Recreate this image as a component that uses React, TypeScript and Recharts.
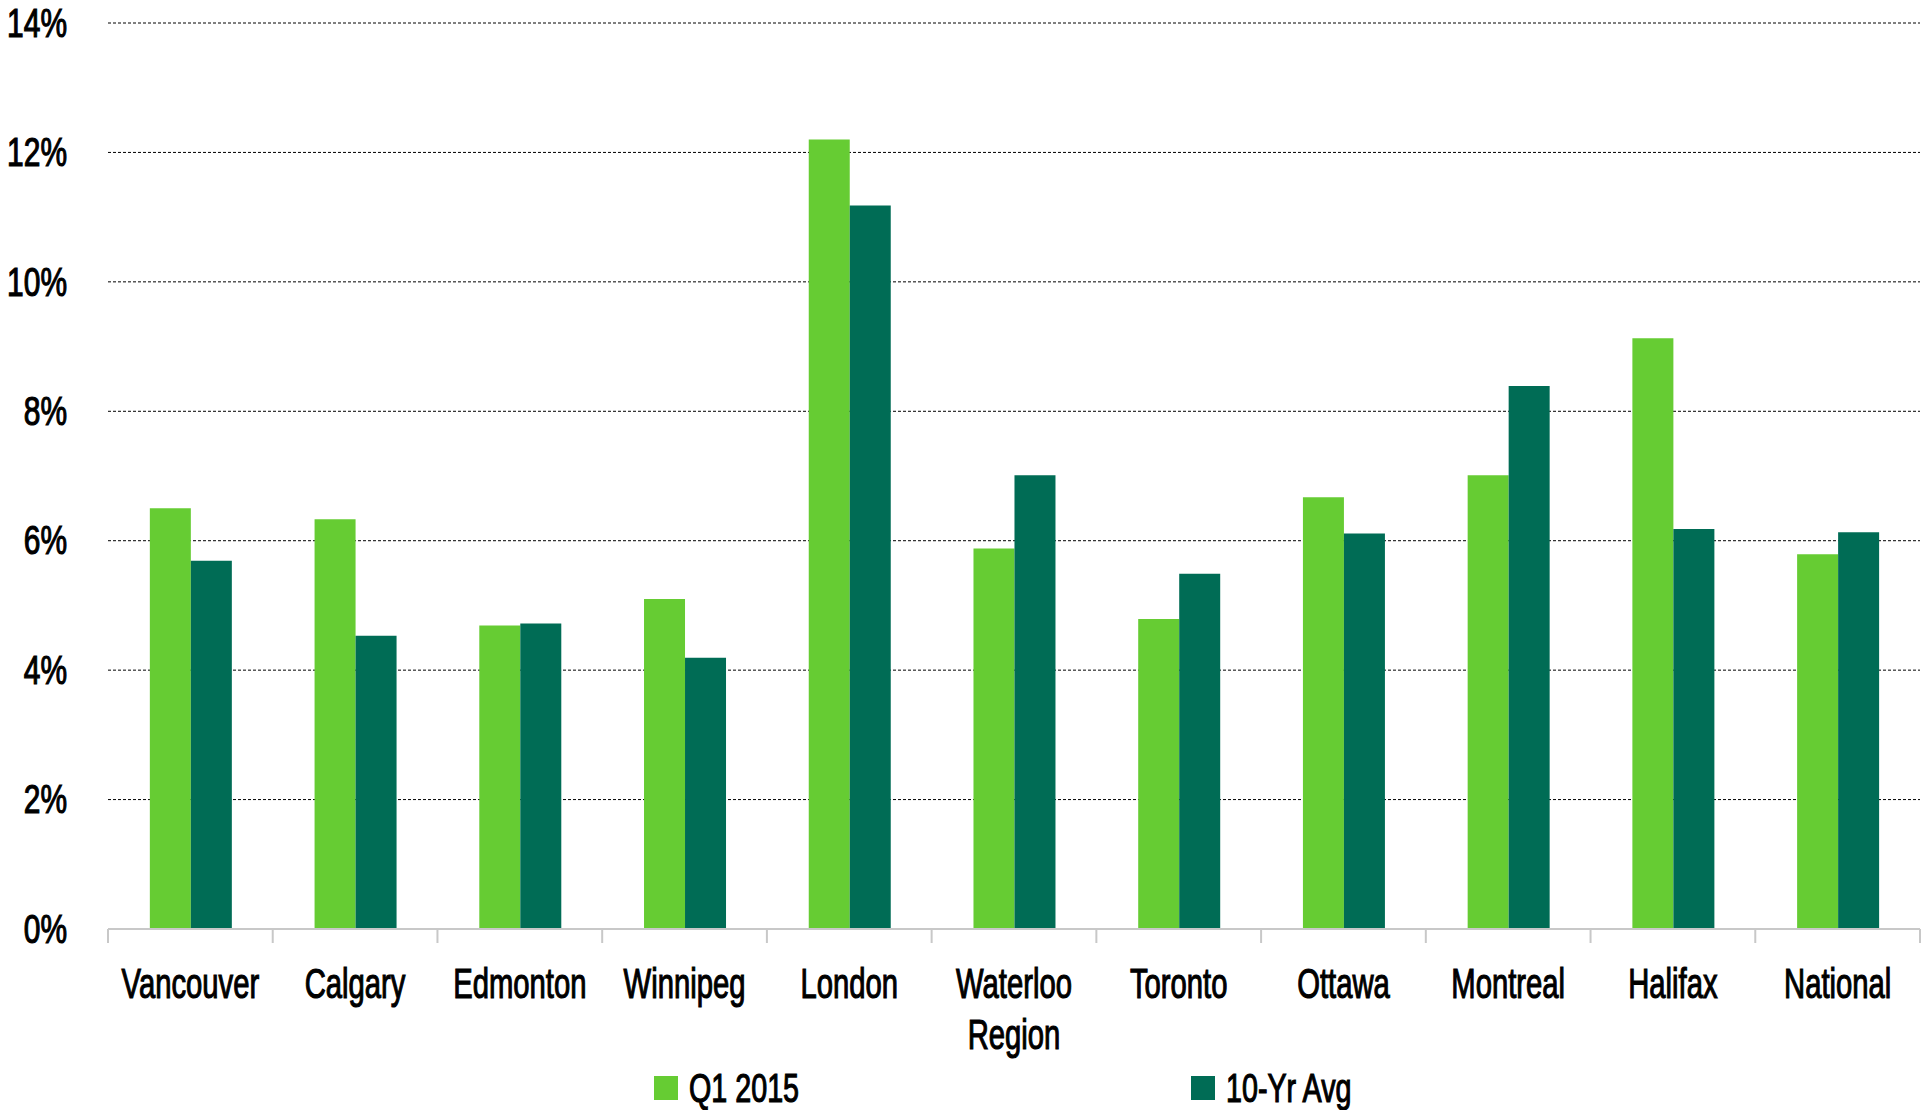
import React from 'react';
import { BarChart, Bar, XAxis, YAxis, CartesianGrid, Legend } from 'recharts';

// Vacancy rates by market, percent
const cities = [
  'Vancouver', 'Calgary', 'Edmonton', 'Winnipeg', 'London', 'Waterloo Region',
  'Toronto', 'Ottawa', 'Montreal', 'Halifax', 'National',
];
const q12015 = [6.5, 6.33, 4.69, 5.1, 12.2, 5.88, 4.79, 6.67, 7.01, 9.13, 5.79];
const tenYrAvg = [5.69, 4.53, 4.72, 4.19, 11.18, 7.01, 5.49, 6.11, 8.39, 6.18, 6.13];
const seriesNames = ['Q1 2015', '10-Yr Avg'];
const yTicks = [0, 2, 4, 6, 8, 10, 12, 14];

const data = cities.map((city, i) => ({ city, q1: q12015[i], avg: tenYrAvg[i] }));

const W = 1923;
const H = 1110;
const MARGIN = { top: 23, right: 3, left: 0, bottom: 0 };
const Y_AXIS_W = 108;
const X_AXIS_H = 181;
const BAND = (W - MARGIN.left - MARGIN.right - Y_AXIS_W) / cities.length;

const FONT = '"Liberation Sans", Arial, sans-serif';
const LIGHT = '#66CC33';
const DARK = '#006C55';
const AXIS_GREY = '#c8c8c8';

// shared look for the condensed label text
const textStyle = {
  fontFamily: FONT,
  fill: '#000',
  stroke: '#000',
  strokeWidth: 1.2,
  paintOrder: 'stroke',
} as const;

const YTick = (props: any) => {
  const { x, y, payload } = props;
  return (
    <text
      transform={`translate(${x - 41},${y}) scale(0.73,1)`}
      textAnchor="end"
      dominantBaseline="central"
      fontSize={41}
      style={textStyle}
    >
      {`${payload.value}%`}
    </text>
  );
};

const CityTick = (props: any) => {
  const { x, y, payload, index } = props;
  const label: string = String(payload.value);
  const lines = label.length > 12 ? label.split(' ') : [label];
  return (
    <g>
      <line x1={x - BAND / 2} x2={x - BAND / 2} y1={y} y2={y + 14} stroke={AXIS_GREY} strokeWidth={2} />
      {index === cities.length - 1 && (
        <line x1={x + BAND / 2} x2={x + BAND / 2} y1={y} y2={y + 14} stroke={AXIS_GREY} strokeWidth={2} />
      )}
      {lines.map((ln, i) => (
        <text
          key={ln}
          transform={`translate(${x},${y + 54 + i * 51}) scale(0.68,1)`}
          textAnchor="middle"
          dominantBaseline="central"
          fontSize={43}
          style={textStyle}
        >
          {ln}
        </text>
      ))}
    </g>
  );
};

const LegendContent = (props: any) => {
  const payload: any[] = [...(props.payload || [])].sort(
    (a, b) => seriesNames.indexOf(a.value) - seriesNames.indexOf(b.value),
  );
  return (
    <div style={{ display: 'flex', alignItems: 'center' }}>
      {payload.map((entry: any) => (
        <div key={entry.value} style={{ width: 537, display: 'flex', alignItems: 'center' }}>
          <span style={{ width: 24, height: 24, background: entry.color, display: 'inline-block' }} />
          <svg width={200} height={44} style={{ marginLeft: 11, overflow: 'visible' }}>
            <text
              transform="translate(0,22) scale(0.7,1)"
              dominantBaseline="central"
              fontSize={41}
              style={textStyle}
            >
              {entry.value}
            </text>
          </svg>
        </div>
      ))}
    </div>
  );
};

export default function App() {
  return (
    <div style={{ position: 'absolute', left: 0, top: 0, width: W, height: H, background: '#fff' }}>
      <BarChart width={W} height={H} data={data} margin={MARGIN} barCategoryGap="25.4%" barGap={0}>
        <CartesianGrid vertical={false} stroke="#000" strokeDasharray="3 2" strokeWidth={1} />
        <XAxis
          dataKey="city"
          interval={0}
          height={X_AXIS_H}
          tickLine={false}
          tickSize={0}
          tickMargin={0}
          axisLine={{ stroke: AXIS_GREY, strokeWidth: 2 }}
          tick={<CityTick />}
        />
        <YAxis
          width={Y_AXIS_W}
          domain={[0, 14]}
          ticks={yTicks}
          axisLine={false}
          tickLine={false}
          tickSize={0}
          tickMargin={0}
          tick={<YTick />}
        />
        <Legend
          verticalAlign="middle"
          align="center"
          layout="horizontal"
          content={<LegendContent />}
          wrapperStyle={{ top: 1066, left: 654, width: 1200, height: 44 }}
        />
        <Bar dataKey="q1" name={seriesNames[0]} fill={LIGHT} isAnimationActive={false} />
        <Bar dataKey="avg" name={seriesNames[1]} fill={DARK} isAnimationActive={false} />
      </BarChart>
    </div>
  );
}
